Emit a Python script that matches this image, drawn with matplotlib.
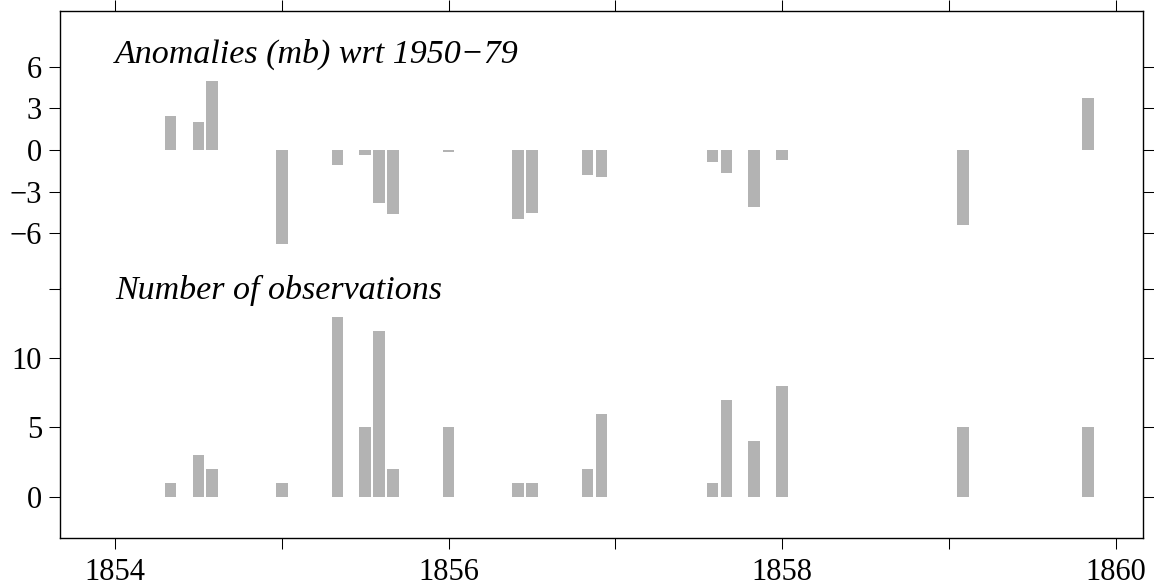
import matplotlib
matplotlib.use('Agg')
import matplotlib.pyplot as plt
import numpy as np

plt.rcParams['font.family'] = ['Liberation Serif', 'DejaVu Serif']

# Monthly pressure anomalies and observation counts
years = [1854, 1854, 1854, 1855, 1855, 1855, 1855, 1855, 1856, 1856,
         1856, 1856, 1856, 1857, 1857, 1857, 1858, 1859, 1859]
months = [4, 6, 7, 0, 4, 6, 7, 8, 0, 5,
          6, 10, 11, 7, 8, 10, 0, 1, 10]
anomalies = [2.45, 2.0, 4.96, -6.75, -1.06, -0.36, -3.79, -4.58, -0.12, -4.96,
             -4.51, -1.78, -1.92, -0.84, -1.63, -4.13, -0.72, -5.4, 3.74]
n_obs = [1, 3, 2, 1, 13, 5, 12, 2, 5, 1,
         1, 2, 6, 1, 7, 4, 8, 5, 5]

anom_ticks = [-6, -3, 0, 3, 6]
obs_ticks = [0, 5, 10, 15]
obs_labels = ['0', '5', '10', '']
year_ticks = [1854, 1855, 1856, 1857, 1858, 1859, 1860]

t = np.array(years) + np.array(months) / 12.0
bar_col = '#b3b3b3'

fig = plt.figure(figsize=(11.54, 5.88), dpi=100)
left, width = 0.052, 0.9389
ax1 = fig.add_axes([left, 0.5085, width, 0.9813 - 0.5085])
ax2 = fig.add_axes([left, 0.085, width, 0.5085 - 0.085])

ax1.bar(t, anomalies, width=0.07, color=bar_col, linewidth=0)
ax2.bar(t, n_obs, width=0.07, color=bar_col, linewidth=0)

ax1.set_ylim(-10, 10)
ax2.set_ylim(-3, 15)
for ax in (ax1, ax2):
    ax.set_xlim(1853.67, 1860.167)
    ax.set_xticks(year_ticks)
    for s in ax.spines.values():
        s.set_linewidth(1.0)
    ax.tick_params(direction='out', length=8, width=0.75, labelsize=22,
                   left=True, right=True, labelright=False)

ax1.spines['bottom'].set_visible(False)
ax2.spines['top'].set_visible(False)

ax1.set_yticks(anom_ticks)
ax1.tick_params(axis='x', top=True, bottom=False, labelbottom=False, labeltop=False)
ax1.tick_params(axis='y', pad=5)

ax2.set_yticks(obs_ticks)
ax2.set_yticklabels(obs_labels)
ax2.tick_params(axis='y', pad=5)
ax2.tick_params(axis='x', top=False, bottom=True, pad=6.5)
ax2.set_xticklabels(['1854', '', '1856', '', '1858', '', '1860'])

ax1.text(1854.0, 6.24, 'Anomalies (mb) wrt 1950\u221279', fontsize=24.5,
         style='italic', ha='left', va='baseline')
ax2.text(1854.0, 14.3, 'Number of observations', fontsize=24.5,
         style='italic', ha='left', va='baseline', clip_on=False)

fig.savefig('out.png', dpi=100)
